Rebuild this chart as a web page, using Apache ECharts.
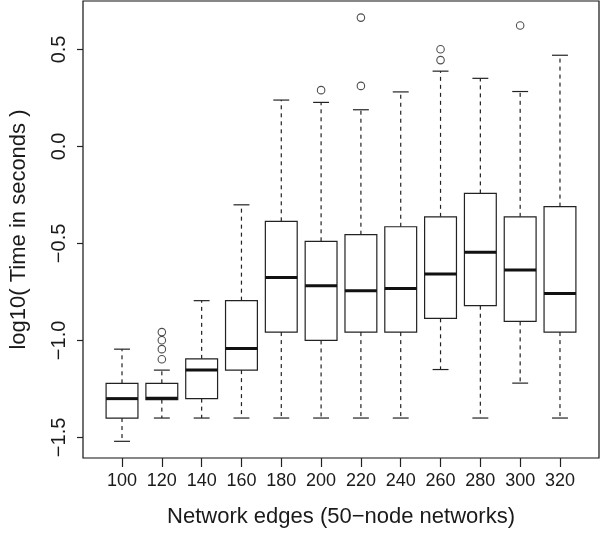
<!DOCTYPE html>
<html>
<head>
<meta charset="utf-8">
<script src="https://cdn.jsdelivr.net/npm/echarts@6/dist/echarts.min.js"></script>
<style>html,body{margin:0;padding:0;background:#fff}#c{width:600px;height:533px}</style>
</head>
<body>
<div id="c"></div>
<script>
const categories = ['100','120','140','160','180','200','220','240','260','280','300','320'];
const lowWhisker  = [-1.52, -1.40, -1.40, -1.40, -1.40, -1.40, -1.40, -1.40, -1.15, -1.40, -1.22, -1.40];
const q1          = [-1.40, -1.305, -1.30, -1.153, -0.957, -1.00, -0.957, -0.957, -0.886, -0.821, -0.902, -0.957];
const median      = [-1.30, -1.298, -1.153, -1.042, -0.676, -0.718, -0.744, -0.732, -0.657, -0.545, -0.637, -0.758];
const q3          = [-1.221, -1.221, -1.095, -0.795, -0.386, -0.489, -0.455, -0.414, -0.363, -0.242, -0.363, -0.310];
const highWhisker = [-1.045, -1.153, -0.795, -0.301, 0.239, 0.227, 0.189, 0.281, 0.388, 0.351, 0.283, 0.470];
const outlierCategory = ['120','120','120','120','200','220','220','260','260','300'];
const outlierValue    = [-0.957, -0.999, -1.045, -1.097, 0.290, 0.664, 0.312, 0.501, 0.445, 0.623];
const yTicks = [-1.5, -1.0, -0.5, 0.0, 0.5];

const font = "'Liberation Sans', Arial, Helvetica, sans-serif";
const boxData = categories.map((c, i) => [i + 1, lowWhisker[i], q1[i], median[i], q3[i], highWhisker[i]]);
const outData = outlierCategory.map((c, i) => [categories.indexOf(c) + 1, outlierValue[i]]);
const xTickVals = categories.map((c, i) => i + 1);

function renderBox(params, api) {
  const x = api.value(0);
  const pLo = api.coord([x, api.value(1)]);
  const pQ1 = api.coord([x, api.value(2)]);
  const pMed = api.coord([x, api.value(3)]);
  const pQ3 = api.coord([x, api.value(4)]);
  const pHi = api.coord([x, api.value(5)]);
  const w = api.size([0.8, 0])[0];
  const cx = pMed[0];
  const hw = w / 2, cw = w / 4;
  const stroke = '#222';
  const dashStyle = {stroke: stroke, lineWidth: 1.2, lineDash: [4, 4]};
  const solid = {stroke: stroke, lineWidth: 1.2};
  return {
    type: 'group',
    children: [
      {type: 'line', shape: {x1: cx, y1: pQ3[1], x2: cx, y2: pHi[1]}, style: dashStyle},
      {type: 'line', shape: {x1: cx, y1: pQ1[1], x2: cx, y2: pLo[1]}, style: dashStyle},
      {type: 'line', shape: {x1: cx - cw, y1: pHi[1], x2: cx + cw, y2: pHi[1]}, style: solid},
      {type: 'line', shape: {x1: cx - cw, y1: pLo[1], x2: cx + cw, y2: pLo[1]}, style: solid},
      {type: 'rect', shape: {x: cx - hw, y: pQ3[1], width: w, height: pQ1[1] - pQ3[1]}, style: {fill: '#fff', stroke: stroke, lineWidth: 1.2}},
      {type: 'line', shape: {x1: cx - hw, y1: pMed[1], x2: cx + hw, y2: pMed[1]}, style: {stroke: '#111', lineWidth: 3}}
    ]
  };
}

const chart = echarts.init(document.getElementById('c'), null, {renderer: 'canvas'});
chart.setOption({
  animation: false,
  backgroundColor: '#fff',
  grid: {left: 82, right: 1, top: 1, bottom: 71, show: true, borderColor: '#111', borderWidth: 1.2, backgroundColor: 'transparent'},
  xAxis: {
    type: 'value', min: 0.02, max: 12.98,
    axisLine: {show: false, onZero: false},
    splitLine: {show: false},
    axisTick: {show: true, length: 9, lineStyle: {color: '#222', width: 1.2}, customValues: xTickVals},
    axisLabel: {customValues: xTickVals, margin: 14, color: '#1a1a1a', fontSize: 18, fontFamily: font,
      formatter: v => categories[Math.round(v) - 1] || ''},
    name: 'Network edges (50\u2212node networks)', nameLocation: 'middle', nameGap: 48,
    nameTextStyle: {fontSize: 22, fontFamily: font, color: '#1a1a1a'}
  },
  yAxis: {
    type: 'value', min: -1.606, max: 0.7496,
    axisLine: {show: false, onZero: false},
    splitLine: {show: false},
    axisTick: {show: true, length: 6, lineStyle: {color: '#222', width: 1.2}, customValues: yTicks},
    axisLabel: {customValues: yTicks, rotate: 90, margin: 14, color: '#1a1a1a', fontSize: 20, fontFamily: font,
      formatter: v => v.toFixed(1).replace('-', '\u2212')},
    name: 'log10( Time in seconds )', nameLocation: 'middle', nameGap: 53,
    nameTextStyle: {fontSize: 22, fontFamily: font, color: '#1a1a1a'}
  },
  series: [
    {type: 'custom', renderItem: renderBox, data: boxData, encode: {x: 0, y: [1, 2, 3, 4, 5]}, clip: false},
    {type: 'scatter', data: outData, symbol: 'circle', symbolSize: 7.5,
      itemStyle: {color: 'rgba(255,255,255,0)', borderColor: '#222', borderWidth: 1.1}}
  ]
});
</script>
</body>
</html>
